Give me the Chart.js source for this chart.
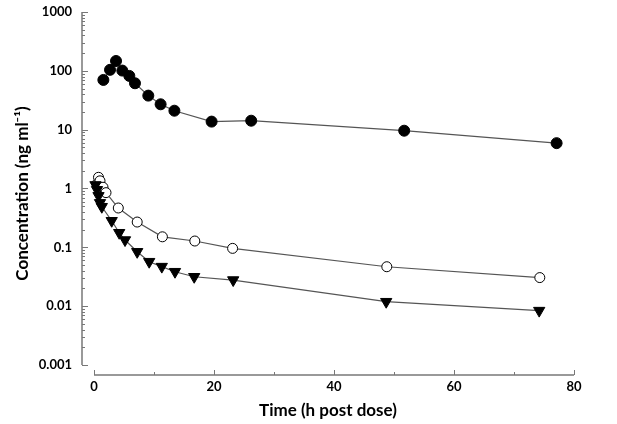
<!DOCTYPE html>
<html>
<head>
<meta charset="utf-8">
<script src="https://cdn.jsdelivr.net/npm/chart.js@4"></script>
<style>
  body { margin: 0; background: #fff; }
  #wrap { width: 617px; height: 424px; }
</style>
</head>
<body>
<div id="wrap"><canvas id="pk" width="617" height="424"></canvas></div>
<script>
// data (time in h, concentration in ng/ml)
const filledTime = [1.56, 2.67, 3.67, 4.72, 5.89, 6.83, 9.05, 11.1, 13.4, 19.6, 26.2, 51.7, 77.1];
const filledConc = [70, 104, 147, 101, 82, 61.5, 37.9, 27, 21, 13.7, 14.2, 9.6, 5.9];

const openTime = [0.5, 0.75, 1, 1.5, 2, 4.05, 7.2, 11.4, 16.8, 23.1, 48.8, 74.3];
const openConc = [1.2, 1.55, 1.35, 1.05, 0.85, 0.466, 0.269, 0.151, 0.128, 0.096, 0.0468, 0.0306];

const triTime = [0.25, 0.5, 0.75, 1, 1.3, 2.95, 4.2, 5.17, 7.2, 9.2, 11.3, 13.5, 16.7, 23.2, 48.7, 74.2];
const triConc = [1.15, 0.95, 0.75, 0.57, 0.49, 0.283, 0.177, 0.133, 0.084, 0.057, 0.047, 0.0385, 0.0316, 0.0278, 0.0119, 0.0084];

const xTicks = [0, 20, 40, 60, 80];
const xMinorTicks = [10, 30, 50, 70];
const yTicks = [1000, 100, 10, 1, 0.1, 0.01, 0.001];
const yTickLabels = ["1000", "100", "10", "1", "0.1", "0.01", "0.001"];

const FONT = "Lato, 'Open Sans', sans-serif";
const AXIS = "#777";

function pts(t, c) {
    return t.map((v, i) => ({ x: v, y: c[i] }));
}

// axes are drawn detached from each other, like the original
const axesPlugin = {
    id: "axes",
    beforeDatasetsDraw(chart) {
        const ctx = chart.ctx;
        const xs = chart.scales.x, ys = chart.scales.y;
        const left = chart.chartArea.left;
        const bottom = chart.chartArea.bottom;
        ctx.save();
        ctx.strokeStyle = AXIS;
        ctx.lineWidth = 1.5;

        // y axis
        const yTop = ys.getPixelForValue(yTicks[0]);
        const yBot = ys.getPixelForValue(yTicks[yTicks.length - 1]);
        ctx.beginPath();
        ctx.moveTo(left, yTop);
        ctx.lineTo(left, yBot);
        ctx.stroke();
        ctx.lineWidth = 1;
        ctx.beginPath();
        yTicks.forEach(v => {
            const y = Math.round(ys.getPixelForValue(v)) + 0.5;
            ctx.moveTo(left, y);
            ctx.lineTo(left + 6, y);
            if (v < 1000) {
                for (let m = 2; m <= 9; m++) {
                    const ym = Math.round(ys.getPixelForValue(v * m)) + 0.5;
                    ctx.moveTo(left, ym);
                    ctx.lineTo(left + 3, ym);
                }
            }
        });
        ctx.stroke();

        // x axis
        ctx.lineWidth = 1.5;
        const x0 = xs.getPixelForValue(xTicks[0]);
        const x1 = xs.getPixelForValue(xTicks[xTicks.length - 1]);
        ctx.beginPath();
        ctx.moveTo(x0, bottom);
        ctx.lineTo(x1, bottom);
        ctx.stroke();
        ctx.lineWidth = 1;
        ctx.beginPath();
        xTicks.forEach(v => {
            const x = Math.round(xs.getPixelForValue(v)) + 0.5;
            ctx.moveTo(x, bottom);
            ctx.lineTo(x, bottom - 5);
        });
        xMinorTicks.forEach(v => {
            const x = Math.round(xs.getPixelForValue(v)) + 0.5;
            ctx.moveTo(x, bottom);
            ctx.lineTo(x, bottom - 3);
        });
        ctx.stroke();
        ctx.restore();
    }
};

const lineStyle = { borderColor: "#555", borderWidth: 1.2, showLine: true };

new Chart(document.getElementById("pk"), {
    type: "scatter",
    data: {
        datasets: [
            Object.assign({
                label: "triangles",
                data: pts(triTime, triConc),
                pointStyle: "triangle",
                rotation: 180,
                pointRadius: 6.5,
                pointBackgroundColor: "#000",
                pointBorderColor: "#000",
                pointBorderWidth: 1
            }, lineStyle),
            Object.assign({
                label: "open",
                data: pts(openTime, openConc),
                pointStyle: "circle",
                pointRadius: 5,
                pointBackgroundColor: "#fff",
                pointBorderColor: "#000",
                pointBorderWidth: 1
            }, lineStyle),
            Object.assign({
                label: "filled",
                data: pts(filledTime, filledConc),
                pointStyle: "circle",
                pointRadius: 5.5,
                pointBackgroundColor: "#000",
                pointBorderColor: "#000",
                pointBorderWidth: 1
            }, lineStyle)
        ]
    },
    options: {
        responsive: false,
        animation: false,
        devicePixelRatio: 1,
        layout: { padding: { top: 12, right: 43, left: 0, bottom: 0 } },
        plugins: { legend: { display: false }, tooltip: { enabled: false } },
        scales: {
            x: {
                type: "linear",
                min: -2,
                max: 80,
                grid: { display: false, drawTicks: false },
                border: { display: false },
                afterBuildTicks: s => { s.ticks = xTicks.map(v => ({ value: v })); },
                afterFit: s => { s.height = 49; s.paddingLeft = 0; s.paddingRight = 0; },
                ticks: {
                    padding: 4,
                    color: "#000",
                    font: { family: FONT, size: 13, weight: "bold" },
                    callback: v => String(v)
                },
                title: {
                    display: true,
                    text: "Time (h post dose)",
                    color: "#000",
                    font: { family: FONT, size: 17, weight: "bold" },
                    padding: { top: 0, bottom: 3 }
                }
            },
            y: {
                type: "logarithmic",
                min: 0.000676,
                max: 1000,
                grid: { display: false, drawTicks: false },
                border: { display: false },
                afterBuildTicks: s => { s.ticks = yTicks.map(v => ({ value: v })); },
                afterFit: s => { s.width = 82; s.paddingTop = 0; s.paddingBottom = 0; },
                ticks: {
                    padding: 10,
                    color: "#000",
                    font: { family: FONT, size: 13, weight: "bold" },
                    callback: v => yTickLabels[yTicks.indexOf(v)]
                },
                title: {
                    display: true,
                    text: "Concentration (ng ml\u207B\u00B9)",
                    color: "#000",
                    font: { family: FONT, size: 17, weight: "bold" },
                    padding: { top: 12, bottom: 0 }
                }
            }
        }
    },
    plugins: [axesPlugin]
});
</script>
</body>
</html>
